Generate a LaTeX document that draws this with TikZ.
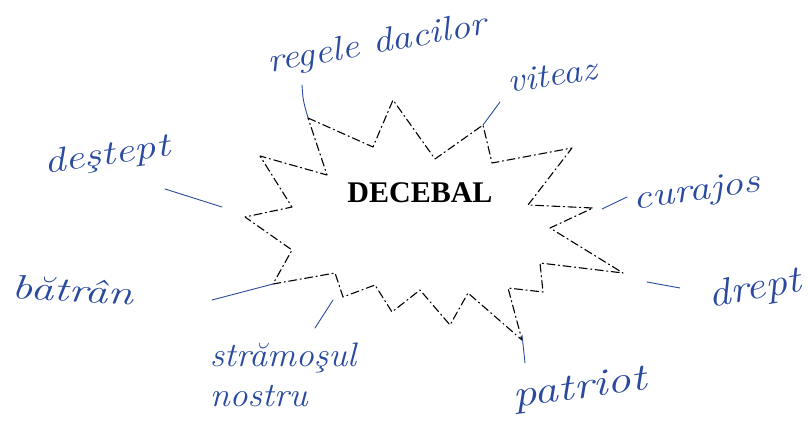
\documentclass[tikz,border=0pt]{standalone}
\usepackage{fontspec}
\newfontfamily\headfont{Liberation Serif}
\definecolor{ink}{RGB}{42,74,160}
\tikzset{
  burst/.style={line width=1.1pt,dash pattern=on 8pt off 3.5pt on 1.2pt off 3.5pt},
  word/.style={text=ink,font=\fontsize{34}{40}\selectfont\itshape,inner sep=0pt},
  link/.style={draw=ink,line width=0.9pt}
}
\begin{document}
\begin{tikzpicture}[x=1pt,y=-1pt,line cap=round,line join=round]
    \useasboundingbox (0,0) rectangle (811,425);
    % star outline
    \draw[burst]
      (308,118) coordinate (v1) -- (373,147) -- (393,100) -- (435,159)
      -- (483,125) coordinate (v5) -- (492,163) -- (572,148) -- (528,205)
      -- (593,208) -- (550,228) -- (623,273) -- (540,263) -- (543,292)
      -- (508,288) -- (522,340) coordinate (v15) -- (468,293) -- (450,325)
      -- (420,290) -- (392,312) -- (375,285) -- (343,297) coordinate (v21)
      -- (335,273) -- (273,284) coordinate (v23) -- (292,250) -- (245,217)
      -- (292,207) -- (260,156) -- (327,175) -- cycle;
    \node[font=\headfont\bfseries\fontsize{30}{32}\selectfont] (hero) at (420,193) {DECEBAL};
    % words round it
    \node[word,rotate=10,xscale=1.16] (regele) at (377,45) {regele dacilor};
    \node[word,rotate=9,xscale=1.11] (viteaz) at (552,75) {viteaz};
    \node[word,rotate=8,xscale=1.27] (destept) at (107,156) {deştept};
    \node[word,rotate=-3,xscale=1.35] (batran) at (73,290) {bătrân};
    \node[word,rotate=8,xscale=1.24] (curajos) at (697,193) {curajos};
    \node[word,rotate=10,xscale=1.15,font=\fontsize{38}{40}\selectfont\itshape] (drept) at (755,290) {drept};
    \node[word,align=left,xscale=1.06] (stramos) at (283,375) {strămoşul\\nostru};
    \node[word,rotate=8,xscale=1.26,font=\fontsize{38}{40}\selectfont\itshape] (patriot) at (580,390) {patriot};
    % connectors
    \coordinate (e-regele) at (302,85);
    \coordinate (e-viteaz) at (500,102);
    \coordinate (e-destept) at (165,189);
    \coordinate (f-destept) at (222,207);
    \coordinate (e-batran) at (212,300);
    \coordinate (e-stramos) at (315,328);
    \coordinate (f-stramos) at (333,300);
    \coordinate (e-patriot) at (525,363);
    \coordinate (e-curajos) at (627,197);
    \coordinate (f-curajos) at (602,209);
    \coordinate (e-drept) at (680,288);
    \coordinate (f-drept) at (647,282);
    \draw[link] (e-regele) .. controls (303,100) .. (v1);
    \draw[link] (e-viteaz) -- (v5);
    \draw[link] (e-destept) -- (f-destept);
    \draw[link] (e-batran) -- (v23);
    \draw[link] (e-stramos) -- (f-stramos);
    \draw[link] ([yshift=5pt]v15) -- (e-patriot);
    \draw[link] (e-curajos) -- (f-curajos);
    \draw[link] (e-drept) -- (f-drept);
\end{tikzpicture}
\end{document}
